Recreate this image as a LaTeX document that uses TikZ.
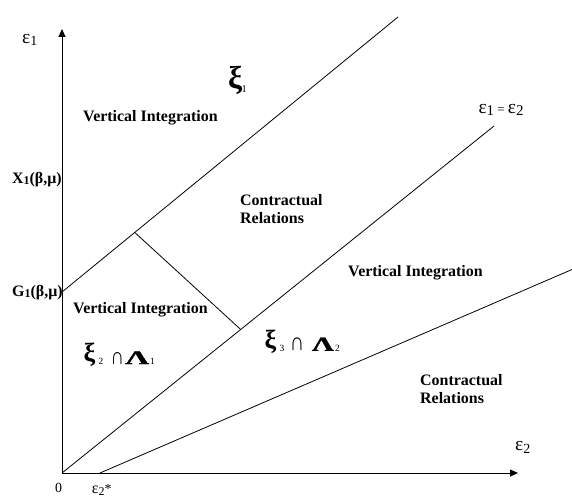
\documentclass[tikz,border=0pt]{standalone}
\usepackage{fontspec}
\setmainfont{Liberation Serif}
\newfontface\heavyfont[FakeBold=1.2]{Liberation Serif Bold}
\usetikzlibrary{arrows.meta}
\newcommand\myfs[1]{\fontsize{#1}{#1}\selectfont}
\tikzset{
  bold/.style={inner sep=0pt, anchor=north west, align=left,
    font=\fontsize{16}{18.3}\selectfont\bfseries},
  sym/.style={inner sep=0pt, anchor=base west, font=\myfs{19.5}},
  gl/.style={inner sep=0pt, anchor=south west},
  sub/.style={inner sep=0pt, anchor=base west, font=\myfs{9.5}},
  ln/.style={line width=0.8bp},
  axisln/.style={line width=1bp, -{Triangle[length=8bp,width=7bp]}}
}
\newcommand\bxi[1]{\resizebox*{!}{#1}{\bfseries ξ}}
\newcommand\bLam[2]{\resizebox{#1}{#2}{\heavyfont Λ}}
\newcommand\mycap[2]{\resizebox{#1}{#2}{∩}}
\begin{document}
\begin{tikzpicture}[x=1bp,y=-1bp]
\useasboundingbox (0,0) rectangle (572,502);
% coordinates
\coordinate (O) at (62,473);
\coordinate (Ytip) at (62,29);
\coordinate (Xtip) at (518,473);
\coordinate (G) at (62,292);
\coordinate (Utop) at (398,17);
\coordinate (Dtop) at (494,126);
\coordinate (S) at (100,473);
\coordinate (Lend) at (572,269.5);
\coordinate (P1) at (134.7,232.4);
\coordinate (P2) at (240.7,329.5);
% axes
\draw[axisln] (O) -- (Ytip);
\draw[axisln] (O) -- (Xtip);
% lines
\draw[ln] (G) -- (Utop);
\draw[ln] (O) -- (Dtop);
\draw[ln] (S) -- (Lend);
\draw[ln] (P1) -- (P2);
% axis labels
\node[sym] (e1) at (22,43.3) {ε\raisebox{-2.7bp}{\myfs{14}1}};
\node[sym] (e2) at (515,450.7) {ε\raisebox{-2.5bp}{\myfs{14}2}};
\node[sym] (eq) at (478.3,113.5) {ε\raisebox{-2.5bp}{\myfs{15}1}\,{\myfs{13}=}\,ε\raisebox{-2.5bp}{\myfs{15}2}};
\node[sym,font=\myfs{14}] (zero) at (55,492.7) {0};
\node[sym,font=\myfs{16}] (e2s) at (91.7,493) {ε\raisebox{-2bp}{\myfs{12}2}{\myfs{14}*}};
\node[bold,anchor=base west] (X1) at (12,183.3) {X\raisebox{-1bp}{\myfs{12}1}(β,μ)};
\node[bold,anchor=base west] (G1) at (12,296.7) {G\raisebox{-1bp}{\myfs{12}1}(β,μ)};
% region labels
\node[bold,anchor=base west] (vi1) at (83,121.7) {Vertical Integration};
\node[bold] (cr1) at (240,194.5) {Contractual\\Relations};
\node[bold,anchor=base west] (vi2) at (348,276.7) {Vertical Integration};
\node[bold,anchor=base west] (vi3) at (73,313.3) {Vertical Integration};
\node[bold] (cr2) at (420,373.8) {Contractual\\Relations};
% xi_1
\node[gl] (xiA) at (228,95) {\bxi{28.3bp}};
\node[sub,font=\myfs{10.5}] (xiAs) at (241.5,92.7) {1};
% xi_2 cap Lambda_1
\node[gl] (xiB) at (83.3,366.7) {\bxi{23.4bp}};
\node[sub] (xiBs) at (98.3,364.3) {2};
\node[gl] (capB) at (110.4,364.3) {\mycap{13.5bp}{12bp}};
\node[gl] (lamB) at (125,364.3) {\bLam{24bp}{12.7bp}};
\node[sub] (lamBs) at (150,364.3) {1};
% xi_3 cap Lambda_2
\node[gl] (xiC) at (264.5,353.4) {\bxi{23.4bp}};
\node[sub] (xiCs) at (279.5,351) {3};
\node[gl] (capC) at (289.7,351) {\mycap{14.4bp}{12.7bp}};
\node[gl] (lamC) at (311.7,351) {\bLam{22bp}{13.3bp}};
\node[sub] (lamCs) at (335,351) {2};
\end{tikzpicture}
\end{document}
